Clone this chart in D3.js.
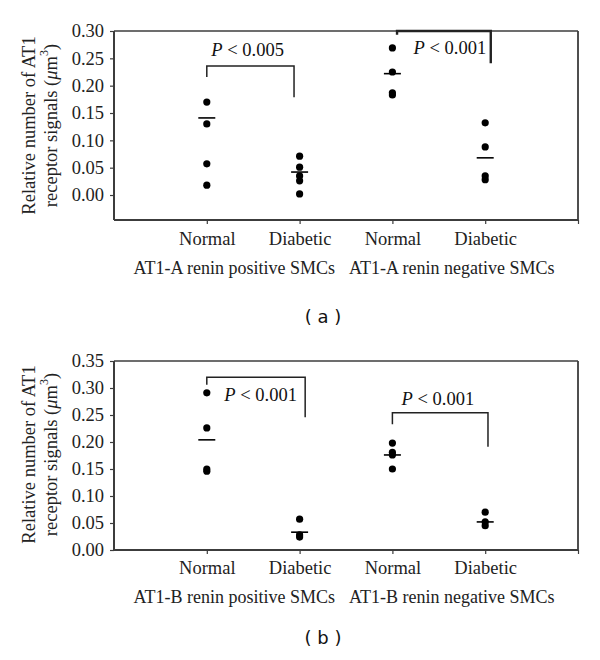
<!DOCTYPE html>
<html><head><meta charset="utf-8">
<script src="https://cdn.jsdelivr.net/npm/d3@7"></script>
<style>body{margin:0;background:#fff}svg{display:block}</style>
</head><body>
<svg id="c" width="600" height="660"></svg>
<script>
// ---------- data ----------
const categories = ["Normal", "Diabetic", "Normal", "Diabetic"];
const groupsA = ["AT1-A renin positive SMCs", "AT1-A renin negative SMCs"];
const groupsB = ["AT1-B renin positive SMCs", "AT1-B renin negative SMCs"];
const ticksA = [0.00, 0.05, 0.10, 0.15, 0.20, 0.25, 0.30];
const ticksB = [0.00, 0.05, 0.10, 0.15, 0.20, 0.25, 0.30, 0.35];
// individual points per category (panel a)
const pointsA = [
  [0.170, 0.130, 0.057, 0.018],
  [0.071, 0.051, 0.035, 0.026, 0.002],
  [0.269, 0.225, 0.187, 0.183],
  [0.132, 0.088, 0.035, 0.028]
];
const meansA = [0.141, 0.042, 0.222, 0.068];
// panel b
const pointsB = [
  [0.291, 0.226, 0.150, 0.146],
  [0.057, 0.028, 0.024],
  [0.198, 0.181, 0.176, 0.150],
  [0.070, 0.052, 0.045]
];
const meansB = [0.204, 0.033, 0.176, 0.052];
// significance brackets (category units / data values)
const bracketsA = [
  {x1: 1, x2: 1.94, top: 0.236, l: 0.216, r: 0.179, ty: 0.265, tx: 1.44, p: "0.005"},
  {x1: 3.05, x2: 4.06, top: 0.300, l: 0.293, r: 0.241, ty: 0.269, tx: 3.62, p: "0.001"}
];
const bracketsB = [
  {x1: 1, x2: 2.06, top: 0.320, l: 0.306, r: 0.246, ty: 0.287, tx: 1.58, p: "0.001"},
  {x1: 3, x2: 4.03, top: 0.254, l: 0.233, r: 0.191, ty: 0.280, tx: 3.49, p: "0.001"}
];

const svg = d3.select("#c");
const serif = "'Liberation Serif', 'Times New Roman', serif";
const axisCol = "#3c3c3c";

function panel(cfg) {
  const x = d3.scaleLinear().domain([0, 5]).range([114, 578]);
  const y = d3.scaleLinear().domain(cfg.domain).range([cfg.bottom, cfg.top]);
  const g = svg.append("g");

  // frame (top, right)
  g.append("line").attr("x1", x(0)).attr("x2", x(5)).attr("y1", y(cfg.domain[1])).attr("y2", y(cfg.domain[1]))
    .attr("stroke", axisCol).attr("stroke-width", 1.6);
  g.append("line").attr("x1", x(5)).attr("x2", x(5)).attr("y1", y(cfg.domain[1])).attr("y2", y(cfg.domain[0]))
    .attr("stroke", axisCol).attr("stroke-width", 1.8);

  // y axis
  const ya = g.append("g").attr("transform", `translate(${x(0)},0)`)
    .call(d3.axisLeft(y).tickValues(cfg.ticks).tickFormat(d3.format(".2f")).tickSize(4).tickPadding(6));
  ya.select(".domain").attr("stroke", axisCol).attr("stroke-width", 2).attr("d", `M0,${y(cfg.domain[0])}V${y(cfg.domain[1])}`);
  ya.selectAll(".tick line").attr("stroke", axisCol).attr("stroke-width", 1.2);
  ya.selectAll("text").attr("font-family", serif).attr("font-size", 18.5).attr("fill", "#222");

  // x axis
  const xa = g.append("g").attr("transform", `translate(0,${y(cfg.domain[0])})`)
    .call(d3.axisBottom(x).tickValues([1, 2, 3, 4, 5]).tickFormat(d => d <= 4 ? categories[d - 1] : "").tickSize(4).tickPadding(9));
  xa.select(".domain").attr("stroke", axisCol).attr("stroke-width", 2).attr("d", `M${x(0)},0H${x(5)}`);
  xa.selectAll(".tick line").attr("stroke", axisCol).attr("stroke-width", 1.2);
  xa.selectAll("text").attr("font-family", serif).attr("font-size", 18.5).attr("fill", "#222")
    .attr("dy", null).attr("y", cfg.catY - y(cfg.domain[0])).attr("dominant-baseline", "central");

  // group labels
  const cx = (x(0) + x(5)) / 2 - 3;
  g.append("text").attr("x", cx - 8).attr("y", cfg.groupY).attr("text-anchor", "end")
    .attr("dominant-baseline", "central").attr("font-family", serif).attr("font-size", 18).attr("fill", "#222").text(cfg.groups[0]);
  g.append("text").attr("x", cx + 6).attr("y", cfg.groupY).attr("text-anchor", "start")
    .attr("dominant-baseline", "central").attr("font-family", serif).attr("font-size", 18).attr("fill", "#222").text(cfg.groups[1]);

  // y title
  const ty = (cfg.top + cfg.bottom) / 2 + cfg.titleShift;
  g.append("text").attr("transform", `translate(29,${ty}) rotate(-90)`)
    .attr("text-anchor", "middle").attr("dominant-baseline", "central")
    .attr("font-family", serif).attr("font-size", 18.5).attr("fill", "#222").text("Relative number of AT1");
  const t2 = g.append("text").attr("transform", `translate(51,${ty}) rotate(-90)`)
    .attr("text-anchor", "middle").attr("dominant-baseline", "central")
    .attr("font-family", serif).attr("font-size", 18.5).attr("fill", "#222");
  t2.append("tspan").text("receptor signals (");
  t2.append("tspan").attr("font-style", "italic").text("μ");
  t2.append("tspan").text("m");
  t2.append("tspan").attr("font-size", 12).attr("dy", -7).text("3");
  t2.append("tspan").attr("dy", 7).text(")");

  // points
  cfg.points.forEach((arr, i) => {
    g.selectAll(null).data(arr).enter().append("circle")
      .attr("cx", x(i + 1)).attr("cy", d => y(d)).attr("r", 3.6).attr("fill", "#000");
  });
  // mean lines
  g.selectAll(null).data(cfg.means).enter().append("line")
    .attr("x1", (d, i) => x(i + 1) - 8.5).attr("x2", (d, i) => x(i + 1) + 8.5)
    .attr("y1", d => y(d)).attr("y2", d => y(d)).attr("stroke", "#000").attr("stroke-width", 1.6);

  // brackets
  cfg.brackets.forEach(b => {
    g.append("path")
      .attr("d", `M${x(b.x1)},${y(b.l)}V${y(b.top)}H${x(b.x2)}V${y(b.r)}`)
      .attr("fill", "none").attr("stroke", "#222").attr("stroke-width", b.top >= cfg.domain[1] ? 2.4 : 1.5);
    const t = g.append("text").attr("x", x(b.tx)).attr("y", y(b.ty)).attr("text-anchor", "middle")
      .attr("dominant-baseline", "central").attr("font-family", serif).attr("font-size", 18.5).attr("fill", "#111");
    t.append("tspan").attr("font-style", "italic").text("P");
    t.append("tspan").text(" < " + b.p);
  });

  // panel letter
  svg.append("text").attr("x", 323).attr("y", cfg.letterY).attr("text-anchor", "middle")
    .attr("dominant-baseline", "central").attr("font-family", "'DejaVu Sans', sans-serif")
    .attr("font-size", 18).attr("fill", "#111").attr("xml:space", "preserve").text(cfg.letter);
}

panel({domain: [-0.0457, 0.30], top: 31, bottom: 220, ticks: ticksA, points: pointsA, means: meansA,
  brackets: bracketsA, groups: groupsA, catY: 239, groupY: 268, letterY: 316, letter: "( a )", titleShift: 0});
panel({domain: [0, 0.35], top: 361, bottom: 550, ticks: ticksB, points: pointsB, means: meansB,
  brackets: bracketsB, groups: groupsB, catY: 568, groupY: 597, letterY: 637, letter: "( b )", titleShift: -1});
</script>
</body></html>
